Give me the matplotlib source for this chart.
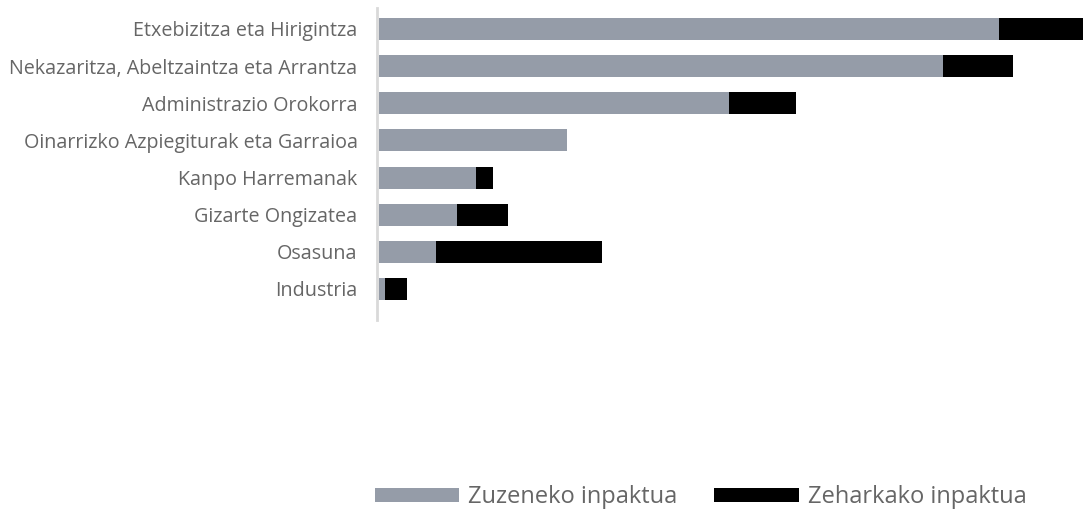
import matplotlib.pyplot as plt
import numpy as np

plt.rcParams['font.family'] = ['Open Sans', 'DejaVu Sans']

# sailak eta inpaktuak
sailak = [
    "Etxebizitza eta Hirigintza",
    "Nekazaritza, Abeltzaintza eta Arrantza",
    "Administrazio Orokorra",
    "Oinarrizko Azpiegiturak eta Garraioa",
    "Kanpo Harremanak",
    "Gizarte Ongizatea",
    "Osasuna",
    "Industria",
]
zuzeneko = [620, 564, 350, 188, 97, 78, 57, 6]
zeharkako = [90, 70, 67, 0, 17, 51, 166, 22]

gray = "#959ca8"
black = "#000000"
txt = "#666666"

fig = plt.figure(figsize=(10.83, 5.13), dpi=100)
ax = fig.add_axes([377 / 1083, 1 - 320 / 513, 1 - 377 / 1083, 312 / 513])

y = np.arange(len(sailak))
h = 0.59
ax.barh(y, zuzeneko, height=h, color=gray, label="Zuzeneko inpaktua")
ax.barh(y, zeharkako, left=zuzeneko, height=h, color=black, label="Zeharkako inpaktua")

ax.set_ylim(7.835, -0.565)
ax.set_xlim(-2, 704)
ax.set_yticks(y)
ax.set_yticklabels(sailak, fontsize=14.2, color=txt)
ax.tick_params(axis="y", length=0, pad=14)
ax.set_xticks([])
for s in ["top", "right", "bottom"]:
    ax.spines[s].set_visible(False)
ax.spines["left"].set_color("#d9d9d9")
ax.spines["left"].set_linewidth(2)

fig.legend(loc="center", bbox_to_anchor=(0.647, 1 - 497 / 513), ncol=2,
           frameon=False, fontsize=17, handlelength=3.56, handleheight=0.55,
           handletextpad=0.38, columnspacing=1.57, labelcolor=txt)

fig.savefig("out.png", dpi=100)
